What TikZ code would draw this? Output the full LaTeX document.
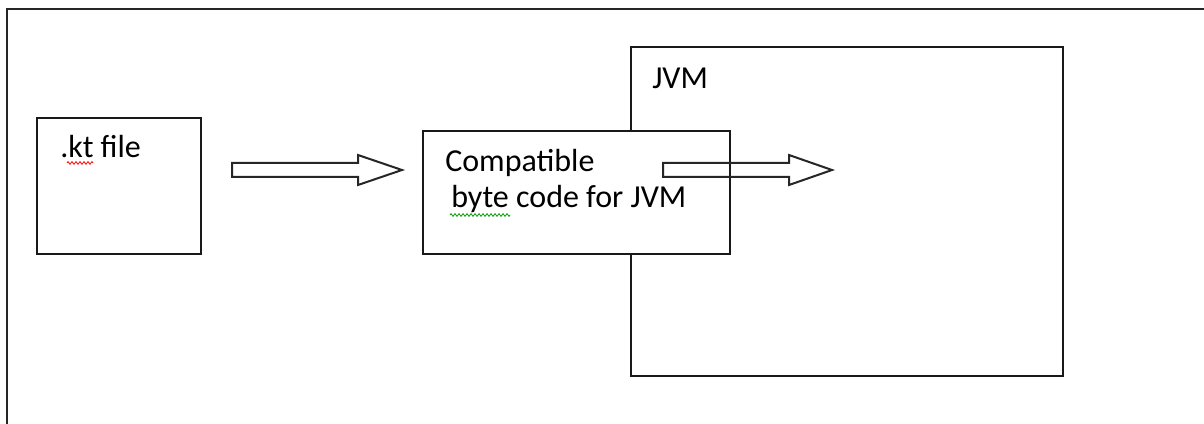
\documentclass[tikz,border=0pt]{standalone}
\usepackage{fontspec}
\setmainfont{Carlito}
\usetikzlibrary{decorations.pathmorphing}
\tikzset{
  frameline/.style={line width=1.7pt, draw=black!85},
  boxshape/.style={rectangle, draw=black!90, line width=1.5pt, fill=white, inner sep=0pt, outer sep=0pt},
  label/.style={anchor=base west, inner sep=0pt, font=\fontsize{24}{28}\selectfont},
  blockarrow/.style={draw=black!85, line width=1.5pt, line join=miter},
  squiggle/.style={decorate, decoration={zigzag, segment length=3pt, amplitude=1pt}, line width=0.6pt},
}
\begin{document}
\begin{tikzpicture}[x=0.75pt, y=-0.75pt]
  \useasboundingbox (0,0) rectangle (1204,424);
  % outer frame (top and left)
  \coordinate (fbl) at (7,426);
  \coordinate (ftl) at (7,9);
  \coordinate (ftr) at (1206,9);
  \draw[frameline] (fbl) -- (ftl) -- (ftr);
  % boxes
  \node[boxshape, minimum width=123pt, minimum height=102pt] (kt) at (119,186) {};
  \node[boxshape, minimum width=324pt, minimum height=246.75pt] (jvm) at (847,211.5) {};
  \node[boxshape, minimum width=230.25pt, minimum height=92.25pt] (comp) at (576.5,192.5) {};
  % texts
  \node[label] (kttext) at (60,158) {.kt file};
  \node[label] (comp1) at (445,172) {Compatible};
  \node[label] (comp2) at (451,208) {byte code for JVM};
  \node[label] (jvmtext) at (652,89) {JVM};
  % spell-check squiggles
  \draw[squiggle, red] (67,163) -- (93,163);
  \draw[squiggle, green!60!black] (450,215) -- (510,215);
  % block arrows
  \draw[blockarrow] (232,163) -- (358,163) -- (358,155) -- (402,170) -- (358,185) -- (358,177) -- (232,177) -- cycle;
  \draw[blockarrow] (663,163) -- (789,163) -- (789,155) -- (832,170) -- (789,185) -- (789,177) -- (663,177) -- cycle;
\end{tikzpicture}
\end{document}
